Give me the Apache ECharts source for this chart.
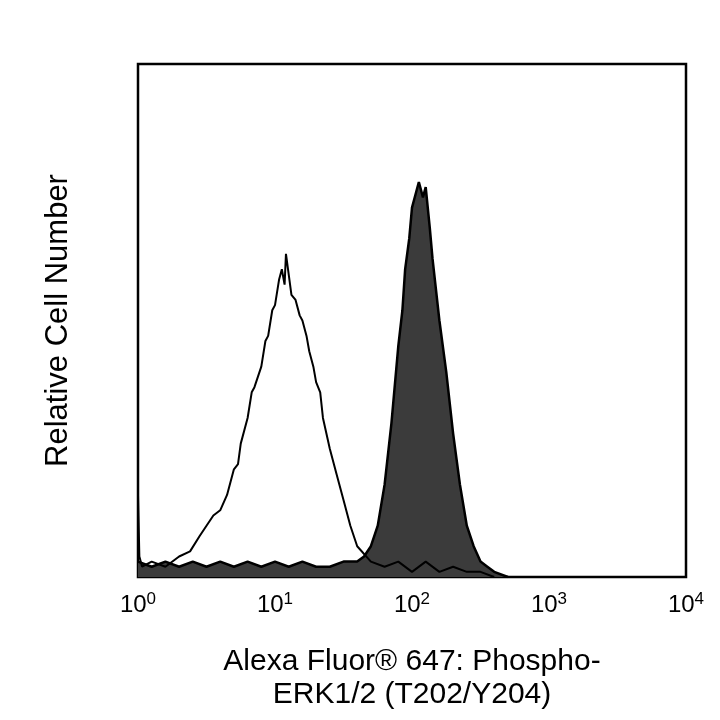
<!DOCTYPE html>
<html>
<head>
<meta charset="utf-8">
<script src="https://cdn.jsdelivr.net/npm/echarts@6/dist/echarts.min.js"></script>
<style>html,body{margin:0;padding:0;background:#fff}#main{width:720px;height:720px}</style>
</head>
<body>
<div id="main"></div>
<script>
// x in decades (log10 of fluorescence), y as relative height
var controlX = [0.0, 0.01, 0.03, 0.1, 0.2, 0.3, 0.38, 0.45, 0.5, 0.55, 0.6, 0.65, 0.7, 0.73, 0.75, 0.8, 0.83, 0.85, 0.9, 0.93, 0.95, 0.98, 1.0, 1.03, 1.05, 1.07, 1.08, 1.1, 1.12, 1.15, 1.18, 1.2, 1.23, 1.25, 1.28, 1.3, 1.33, 1.35, 1.4, 1.45, 1.5, 1.55, 1.6, 1.7, 1.8, 1.9, 2.0, 2.1, 2.2, 2.3, 2.4, 2.5, 2.6];
var controlY = [0.16, 0.04, 0.02, 0.03, 0.02, 0.04, 0.05, 0.08, 0.1, 0.12, 0.13, 0.16, 0.21, 0.22, 0.26, 0.31, 0.36, 0.37, 0.41, 0.46, 0.47, 0.52, 0.53, 0.58, 0.6, 0.57, 0.63, 0.59, 0.55, 0.54, 0.51, 0.5, 0.47, 0.44, 0.41, 0.38, 0.36, 0.31, 0.25, 0.2, 0.15, 0.1, 0.06, 0.03, 0.02, 0.03, 0.01, 0.03, 0.01, 0.02, 0.01, 0.01, 0.0];
var stainedX = [0.0, 0.1, 0.2, 0.3, 0.4, 0.5, 0.6, 0.7, 0.8, 0.9, 1.0, 1.1, 1.2, 1.3, 1.4, 1.5, 1.6, 1.65, 1.7, 1.75, 1.8, 1.85, 1.9, 1.93, 1.95, 1.98, 2.0, 2.03, 2.05, 2.08, 2.1, 2.13, 2.15, 2.2, 2.25, 2.3, 2.35, 2.4, 2.45, 2.5, 2.55, 2.6, 2.7];
var stainedY = [0.03, 0.02, 0.03, 0.02, 0.03, 0.02, 0.03, 0.02, 0.03, 0.02, 0.03, 0.02, 0.03, 0.02, 0.02, 0.03, 0.03, 0.04, 0.06, 0.1, 0.18, 0.3, 0.45, 0.52, 0.6, 0.66, 0.72, 0.75, 0.77, 0.74, 0.76, 0.68, 0.62, 0.5, 0.4, 0.28, 0.18, 0.1, 0.06, 0.03, 0.02, 0.01, 0.0];
var tickExps = ['0', '1', '2', '3', '4'];

function pairs(xs, ys) { return xs.map(function (x, i) { return [x, ys[i]]; }); }

var chart = echarts.init(document.getElementById('main'));
chart.setOption({
  animation: false,
  textStyle: { fontFamily: 'Liberation Sans, Arial, sans-serif' },
  grid: { left: 138, right: 34, top: 64, bottom: 143, show: true, borderColor: '#000', borderWidth: 2.5, backgroundColor: 'transparent' },
  xAxis: {
    type: 'value', min: 0, max: 4, interval: 1,
    name: 'Alexa Fluor® 647: Phospho-\nERK1/2 (T202/Y204)',
    nameLocation: 'middle', nameGap: 68,
    nameTextStyle: { fontSize: 30, color: '#000', lineHeight: 33 },
    axisLine: { show: false }, axisTick: { show: false }, splitLine: { show: false },
    axisLabel: {
      margin: 14, color: '#000',
      formatter: function (v) { return '{b|10}{s|' + tickExps[v] + '}'; },
      rich: { b: { fontSize: 24, color: '#000' }, s: { fontSize: 17, color: '#000', verticalAlign: 'top', padding: [0, 0, 12, 0] } }
    }
  },
  yAxis: {
    type: 'value', min: 0, max: 1,
    name: 'Relative Cell Number', nameLocation: 'middle', nameGap: 64,
    nameTextStyle: { fontSize: 31, color: '#000' },
    axisLine: { show: false }, axisTick: { show: false }, splitLine: { show: false }, axisLabel: { show: false }
  },
  series: [
    { type: 'line', data: pairs(stainedX, stainedY), symbol: 'none',
      lineStyle: { color: '#000', width: 2.5 }, areaStyle: { color: '#3b3b3b', opacity: 1 } },
    { type: 'line', data: pairs(controlX, controlY), symbol: 'none',
      lineStyle: { color: '#000', width: 2 } }
  ]
});
</script>
</body>
</html>
